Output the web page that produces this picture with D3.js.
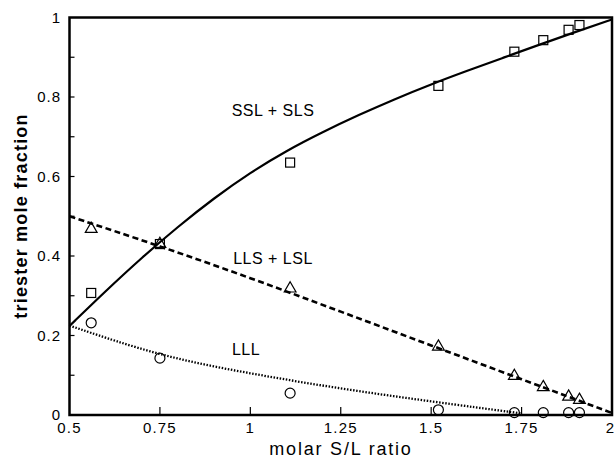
<!DOCTYPE html>
<html><head><meta charset="utf-8">
<script src="https://cdn.jsdelivr.net/npm/d3@7"></script>
<style>
html,body{margin:0;padding:0;background:#fff;}
svg{display:block;font-family:"Liberation Sans",Arial,sans-serif;}
</style></head>
<body><svg id="c" width="615" height="461"></svg>
<script>
// measured points (molar S/L ratio)
const ratioX = [0.56, 0.75, 1.11, 1.52, 1.73, 1.81, 1.88, 1.91];
const sslSls = [0.307, 0.43, 0.635, 0.828, 0.914, 0.943, 0.969, 0.981];
const llsLsl = [0.468, 0.43, 0.318, 0.172, 0.098, 0.070, 0.046, 0.038];
const lll    = [0.232, 0.143, 0.055, 0.013, 0.006, 0.006, 0.006, 0.006];

// model curves
const solidX = [0.5,0.6,0.7,0.8,0.9,1.0,1.1,1.2,1.3,1.4,1.5,1.6,1.7,1.8,1.9,2.0];
const solidY = [0.224,0.312,0.396,0.474,0.546,0.610,0.665,0.712,0.755,0.795,0.832,0.866,0.899,0.932,0.964,0.995];
const dashX = [0.5,0.75,1.0,1.25,1.5,1.75,2.0];
const dashY = [0.50,0.425,0.345,0.26,0.175,0.09,0.005];
const dotX = [0.5,0.75,1.0,1.25,1.5,1.75];
const dotY = [0.225,0.148,0.104,0.066,0.034,0.004];

const xTicks = [0.5,0.75,1,1.25,1.5,1.75,2];
const xTickLabels = ["0.5","0.75","1","1.25","1.5","1.75","2"];
const yTicks = [0,0.2,0.4,0.6,0.8,1];
const yTickLabels = ["0","0.2","0.4","0.6","0.8","1"];
const yMinor = [0.1,0.3,0.5,0.7,0.9];

const svg = d3.select("#c");
const L = 69.5, R = 612, T = 17.5, B = 415;
const x = d3.scaleLinear().domain([0.5,2]).range([L,R]);
const y = d3.scaleLinear().domain([0,1]).range([B,T]);

// ticks inward
const g = svg.append("g");
g.selectAll(".xt").data(xTicks.slice(1,-1)).join("line")
  .attr("x1",d=>x(d)).attr("x2",d=>x(d)).attr("y1",B).attr("y2",B-8)
  .attr("stroke","#000").attr("stroke-width",1.2);
g.selectAll(".yt").data(yTicks.slice(1,-1).concat(yMinor)).join("line")
  .attr("x1",L).attr("x2",L+5).attr("y1",d=>y(d)).attr("y2",d=>y(d))
  .attr("stroke","#000").attr("stroke-width",1.2);

// tick labels
svg.append("g").selectAll("text").data(xTicks).join("text")
  .attr("x",d=>d===2 ? 614 : x(d)).attr("y",433)
  .attr("text-anchor",d=>d===2 ? "end" : "middle")
  .attr("font-size",15).attr("letter-spacing",d=>d===2 ? "0px" : "1.2px")
  .text((d,i)=>xTickLabels[i]);
svg.append("g").selectAll("text").data(yTicks).join("text")
  .attr("x",61).attr("y",d=>y(d)+5).attr("text-anchor","end")
  .attr("font-size",15).attr("letter-spacing","1px")
  .text((d,i)=>yTickLabels[i]);

// axis titles
svg.append("text").attr("x",341).attr("y",455).attr("text-anchor","middle")
  .attr("font-size",18).attr("letter-spacing","1.8px").text("molar S/L ratio");
svg.append("text").attr("transform","translate(27,216) rotate(-90)").attr("text-anchor","middle")
  .attr("font-size",18).attr("font-weight","bold").attr("letter-spacing","1.2px").text("triester mole fraction");

// curves
const line = d3.line().x(d=>x(d[0])).y(d=>y(d[1])).curve(d3.curveBasis);
svg.append("path").datum(solidX.map((v,i)=>[v,solidY[i]])).attr("d",line)
  .attr("fill","none").attr("stroke","#000").attr("stroke-width",2.2);
svg.append("path").datum(dashX.map((v,i)=>[v,dashY[i]])).attr("d",line)
  .attr("fill","none").attr("stroke","#000").attr("stroke-width",2.6).attr("stroke-dasharray","6,3.5");
svg.append("path").datum(dotX.map((v,i)=>[v,dotY[i]])).attr("d",line)
  .attr("fill","none").attr("stroke","#000").attr("stroke-width",2.3).attr("stroke-dasharray","1.5,1.6");

// markers
const mk = svg.append("g").attr("fill","none").attr("stroke","#000").attr("stroke-width",1.2);
mk.selectAll(".sq").data(ratioX.map((v,i)=>[v,sslSls[i]])).join("rect")
  .attr("x",d=>x(d[0])-4.5).attr("y",d=>y(d[1])-4.5).attr("width",9).attr("height",9);
const tri = d3.symbol().type(d3.symbolTriangle).size(60);
mk.selectAll(".tr").data(ratioX.map((v,i)=>[v,llsLsl[i]])).join("path")
  .attr("d",tri).attr("transform",d=>`translate(${x(d[0])},${y(d[1])})`);
mk.selectAll(".ci").data(ratioX.map((v,i)=>[v,lll[i]])).join("circle")
  .attr("cx",d=>x(d[0])).attr("cy",d=>y(d[1])).attr("r",5);

// frame
svg.append("rect").attr("x",L).attr("y",T).attr("width",R-L).attr("height",B-T)
  .attr("fill","none").attr("stroke","#000").attr("stroke-width",2.5);

// in-plot labels
const lab = svg.append("g").attr("font-size",16).attr("text-anchor","middle").attr("letter-spacing","0.5px");
lab.append("text").attr("x",273).attr("y",116).text("SSL + SLS");
lab.append("text").attr("x",273).attr("y",264).text("LLS + LSL");
lab.append("text").attr("x",246).attr("y",355).text("LLL");
</script></body></html>
